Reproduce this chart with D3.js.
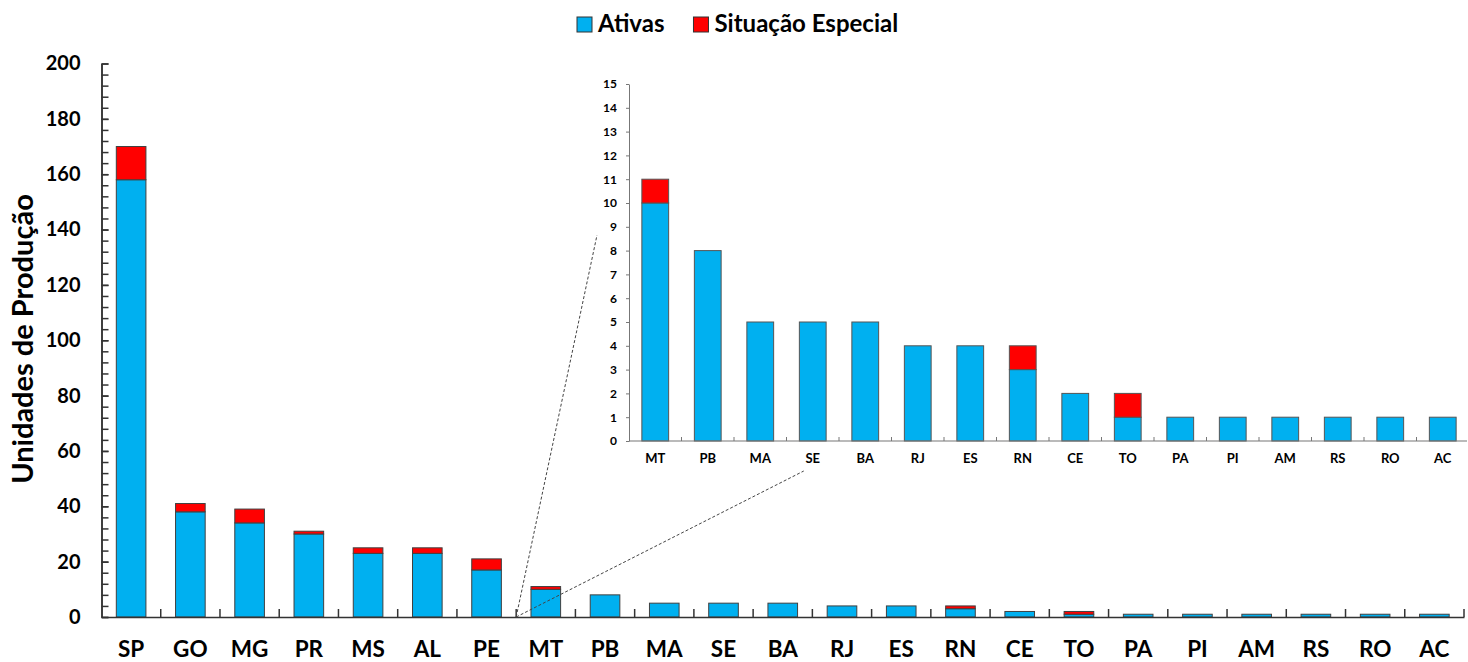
<!DOCTYPE html>
<html><head><meta charset="utf-8">
<script src="https://cdn.jsdelivr.net/npm/d3@7"></script>
<style>
body{margin:0;background:#fff;}
text{font-family:Lato,"Open Sans",sans-serif;font-weight:700;fill:#000;}
</style></head>
<body><svg id="c" width="1468" height="662"></svg>
<script>
const states = ["SP","GO","MG","PR","MS","AL","PE","MT","PB","MA","SE","BA","RJ","ES","RN","CE","TO","PA","PI","AM","RS","RO","AC"];
const ativas = [158,38,34,30,23,23,17,10,8,5,5,5,4,4,3,2,1,1,1,1,1,1,1];
const especial = [12,3,5,1,2,2,4,1,0,0,0,0,0,0,1,0,1,0,0,0,0,0,0];
const insetStates = ["MT","PB","MA","SE","BA","RJ","ES","RN","CE","TO","PA","PI","AM","RS","RO","AC"];
const seriesNames = ["Ativas","Situação Especial"];
const colors = ["#00B0F0","#FF0000"];
const mainTicks = [0,20,40,60,80,100,120,140,160,180,200];
const insetTicks = [0,1,2,3,4,5,6,7,8,9,10,11,12,13,14,15];

const rows = states.map((s,i)=>({state:s, a:ativas[i], e:especial[i]}));
const svg = d3.select("#c");

// ---------- main chart ----------
const x = d3.scaleBand().domain(states).range([101.5,1464]).paddingInner(0.5).paddingOuter(0.25);
const y = d3.scaleLinear().domain([0,200]).range([617,63.5]);
const step = x.step();
const gMain = svg.append("g");

gMain.selectAll("rect.a").data(rows).join("rect")
  .attr("x",d=>x(d.state)).attr("width",x.bandwidth())
  .attr("y",d=>y(d.a)).attr("height",d=>y(0)-y(d.a))
  .attr("fill",colors[0]).attr("stroke","#404040").attr("stroke-width",1);
gMain.selectAll("rect.e").data(rows.filter(d=>d.e>0)).join("rect")
  .attr("x",d=>x(d.state)).attr("width",x.bandwidth())
  .attr("y",d=>y(d.a+d.e)).attr("height",d=>y(d.a)-y(d.a+d.e))
  .attr("fill",colors[1]).attr("stroke","#404040").attr("stroke-width",1);

const yMinor = gMain.append("g").attr("transform",`translate(${x.range()[0]},0)`)
  .call(d3.axisLeft(y).tickValues(d3.range(0,201,4)).tickSizeInner(-7).tickSizeOuter(0).tickFormat(""));
const yAx = gMain.append("g").attr("transform",`translate(${x.range()[0]},0)`)
  .call(d3.axisLeft(y).tickValues(mainTicks).tickSizeInner(-7).tickSizeOuter(0).tickPadding(21));
[yMinor,yAx].forEach(g=>{g.selectAll("path,line").attr("stroke","#333").attr("stroke-width",1.5);});
yAx.selectAll("text").style("font-size","20px").style("font-family","Lato").style("font-weight","700").attr("fill","#000");

const xAx = gMain.append("g").attr("transform",`translate(0,${y(0)})`)
  .call(d3.axisBottom(x).tickSize(0).tickPadding(24).tickSizeOuter(0));
xAx.select("path").attr("stroke","#333").attr("stroke-width",1.5);
xAx.selectAll("text").style("font-size","22.5px").style("font-family","Lato").style("font-weight","700").attr("fill","#000");
const bounds = states.slice(1).map(s=>x(s)-step*0.25).concat([x.range()[1]]);
gMain.selectAll("line.xt").data(bounds).join("line")
  .attr("x1",d=>d).attr("x2",d=>d).attr("y1",y(0)).attr("y2",y(0)-8)
  .attr("stroke","#333").attr("stroke-width",1.5);

svg.append("text").attr("transform",`translate(32.5,339) rotate(-90)`)
  .attr("text-anchor","middle").style("font-size","29px").text("Unidades de Produção");

// ---------- inset ----------
const insetRows = rows.filter(d=>insetStates.includes(d.state));
const xi = d3.scaleBand().domain(insetStates).range([629,1469]).paddingInner(0.49).paddingOuter(0.245);
const yi = d3.scaleLinear().domain([0,15]).range([441,84]);
const stepi = xi.step();
const gIn = svg.append("g");

gIn.selectAll("rect.a").data(insetRows).join("rect")
  .attr("x",d=>xi(d.state)).attr("width",xi.bandwidth())
  .attr("y",d=>yi(d.a)).attr("height",d=>yi(0)-yi(d.a))
  .attr("fill",colors[0]).attr("stroke","#555").attr("stroke-width",1);
gIn.selectAll("rect.e").data(insetRows.filter(d=>d.e>0)).join("rect")
  .attr("x",d=>xi(d.state)).attr("width",xi.bandwidth())
  .attr("y",d=>yi(d.a+d.e)).attr("height",d=>yi(d.a)-yi(d.a+d.e))
  .attr("fill",colors[1]).attr("stroke","#555").attr("stroke-width",1);

const yiAx = gIn.append("g").attr("transform",`translate(${xi.range()[0]},0)`)
  .call(d3.axisLeft(yi).tickValues(insetTicks).tickSizeInner(3).tickSizeOuter(0).tickPadding(9));
yiAx.selectAll("path,line").attr("stroke","#777").attr("stroke-width",1);
yiAx.selectAll("text").style("font-size","12px").style("font-family","Lato").style("font-weight","700").attr("fill","#000");

const xiAx = gIn.append("g").attr("transform",`translate(0,${yi(0)})`)
  .call(d3.axisBottom(xi).tickSize(0).tickPadding(13).tickSizeOuter(0));
xiAx.select("path").attr("stroke","#777").attr("stroke-width",1.2).attr("d",`M${xi.range()[0]},0H1467`);
xiAx.selectAll("text").style("font-size","13px").style("font-family","Lato").style("font-weight","700").attr("fill","#000");
const boundsI = insetStates.slice(1).map(s=>xi(s)-stepi*0.245);
gIn.selectAll("line.xt").data(boundsI).join("line")
  .attr("x1",d=>d).attr("x2",d=>d).attr("y1",yi(0)).attr("y2",yi(0)-4)
  .attr("stroke","#777").attr("stroke-width",1);

const origin = [x("MT")-step*0.25, y(0)];
const ends = [[xi.range()[0]-32, yi(8.65)], [xi("SE")+xi.bandwidth()/2-9, yi(0)+30]];
svg.selectAll("line.conn").data(ends).join("line")
  .attr("x1",origin[0]).attr("y1",origin[1]).attr("x2",d=>d[0]).attr("y2",d=>d[1])
  .attr("stroke","#444").attr("stroke-width",1).attr("stroke-dasharray","3,2");

// ---------- legend ----------
const lg = svg.append("g");
let cx = 577;
seriesNames.forEach((n,i)=>{
  lg.append("rect").attr("x",cx).attr("y",17).attr("width",15).attr("height",15)
    .attr("fill",colors[i]).attr("stroke","#333").attr("stroke-width",1);
  const t = lg.append("text").attr("x",cx+21).attr("y",31.5).style("font-size","24px").text(n);
  cx += 21 + t.node().getComputedTextLength() + 29;
});
</script></body></html>
